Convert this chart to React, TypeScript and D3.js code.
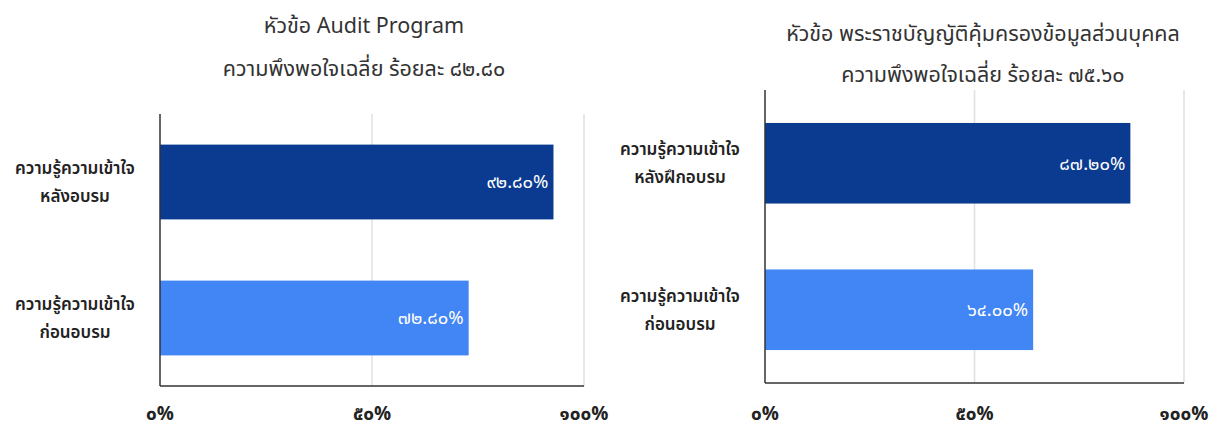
import React from "react";
import * as d3 from "d3";

const panel1Title = ["หัวข้อ Audit Program", "ความพึงพอใจเฉลี่ย ร้อยละ ๘๒.๘๐"];
const panel1Categories = [["ความรู้ความเข้าใจ", "หลังอบรม"], ["ความรู้ความเข้าใจ", "ก่อนอบรม"]];
const panel1Values = [92.8, 72.8];
const panel1ValueLabels = ["๙๒.๘๐%", "๗๒.๘๐%"];

const panel2Title = ["หัวข้อ พระราชบัญญัติคุ้มครองข้อมูลส่วนบุคคล", "ความพึงพอใจเฉลี่ย ร้อยละ ๗๕.๖๐"];
const panel2Categories = [["ความรู้ความเข้าใจ", "หลังฝึกอบรม"], ["ความรู้ความเข้าใจ", "ก่อนอบรม"]];
const panel2Values = [87.2, 64.0];
const panel2ValueLabels = ["๘๗.๒๐%", "๖๔.๐๐%"];

const tickValues = [0, 50, 100];
const tickLabels = ["๐%", "๕๐%", "๑๐๐%"];
const barColors = ["#0b3b91", "#4285f4"];

const FONT = "'Noto Sans Thai', 'Noto Sans', Tahoma, sans-serif";

type PanelProps = {
  title: string[];
  categories: string[][];
  values: number[];
  valueLabels: string[];
  x0: number; x1: number; y0: number; y1: number;
  titleX: number; titleY: number[];
  labelX: number;
};

function Panel(p: PanelProps) {
  const x = d3.scaleLinear().domain([0, 100]).range([p.x0, p.x1]);
  const y = d3.scaleBand<number>().domain(p.values.map((_, i) => i)).range([p.y0, p.y1]).paddingInner(0.45).paddingOuter(0.225);
  const bw = y.bandwidth();
  return (
    <g>
      {p.title.map((t, i) => (
        <text key={i} x={p.titleX} y={p.titleY[i]} textAnchor="middle" fontSize={21.5} fill="#333" fontFamily={FONT}>{t}</text>
      ))}
      {tickValues.slice(1).map((v) => (
        <line key={v} x1={x(v)} x2={x(v)} y1={p.y0} y2={p.y1} stroke="#e0e0e0" strokeWidth={1.5} />
      ))}
      {p.values.map((v, i) => (
        <g key={i}>
          <rect x={x(0)} y={y(i)!} width={x(v) - x(0)} height={bw} fill={barColors[i]} />
          <text x={x(v) - 5} y={y(i)! + bw / 2} dy="0.35em" textAnchor="end" fill="#fff" fontSize={18.5} fontFamily={FONT}>{p.valueLabels[i]}</text>
          {p.categories[i].map((c, j) => (
            <text key={j} x={p.labelX} y={y(i)! + bw / 2 + (j - 0.5) * 28} dy="0.35em" textAnchor="middle" fontSize={17} fontWeight={600} fill="#222" fontFamily={FONT}>{c}</text>
          ))}
        </g>
      ))}
      <line x1={p.x0} x2={p.x0} y1={p.y0} y2={p.y1} stroke="#333" strokeWidth={1.5} />
      <line x1={p.x0} x2={p.x1} y1={p.y1} y2={p.y1} stroke="#333" strokeWidth={1.5} />
      {tickValues.map((v, i) => (
        <text key={v} x={x(v)} y={413} dy="0.35em" textAnchor="middle" fontSize={19} fontWeight={700} fill="#222" fontFamily={FONT}>{tickLabels[i]}</text>
      ))}
    </g>
  );
}

export default function App() {
  return (
    <svg width={1212} height={425} style={{ position: "absolute", left: 0, top: 0, background: "#fff" }}>
      <rect width={1212} height={425} fill="#fff" />
      <Panel title={panel1Title} categories={panel1Categories} values={panel1Values} valueLabels={panel1ValueLabels}
        x0={160} x1={584} y0={114} y1={386} titleX={364} titleY={[33, 76]} labelX={75} />
      <Panel title={panel2Title} categories={panel2Categories} values={panel2Values} valueLabels={panel2ValueLabels}
        x0={765} x1={1184} y0={90} y1={383} titleX={983} titleY={[41, 82]} labelX={680} />
    </svg>
  );
}
